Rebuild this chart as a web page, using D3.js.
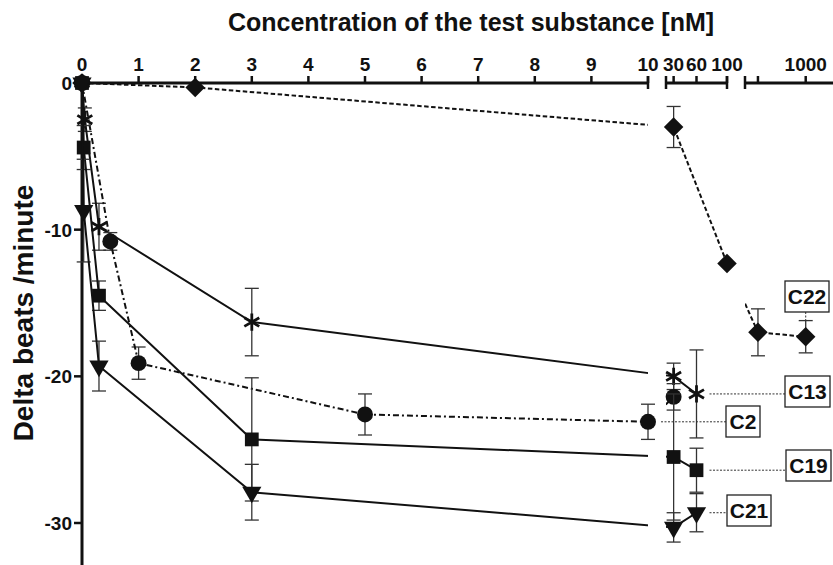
<!DOCTYPE html>
<html>
<head>
<meta charset="utf-8">
<title>Delta beats</title>
<script src="https://cdn.jsdelivr.net/npm/d3@7"></script>
<style>
  body { margin: 0; background: #fff; }
  svg { font-family: "Liberation Sans", Arial, sans-serif; font-weight: bold; }
</style>
</head>
<body>
<svg id="chart" width="833" height="565"></svg>
<script>
// data
const c22X = [0, 2, 30, 100, 300, 1000];
const c22Y = [0, -0.3, -3.0, -12.3, -17.0, -17.3];
const c22E = [0, 0, 1.4, 0, 1.6, 1.1];

const c13X = [0, 0.05, 0.3, 3, 30, 60];
const c13Y = [0, -2.5, -9.8, -16.3, -20.0, -21.2];
const c13E = [0, 0.8, 1.6, 2.3, 0.9, 3.0];

const c2X = [0, 0.5, 1, 5, 10, 30];
const c2Y = [0, -10.8, -19.1, -22.6, -23.1, -21.4];
const c2E = [0, 0.6, 1.1, 1.4, 1.2, 0.9];

const c19X = [0, 0.03, 0.3, 3, 30, 60];
const c19Y = [0, -4.4, -14.5, -24.3, -25.5, -26.4];
const c19E = [0, 1.5, 1.0, 4.2, 4.3, 1.5];

const c21X = [0, 0.03, 0.3, 3, 30, 60];
const c21Y = [0, -8.7, -19.3, -27.9, -30.3, -29.3];
const c21E = [0, 3.5, 1.7, 1.9, 1.0, 1.3];

const seg1Ticks = [0, 1, 2, 3, 4, 5, 6, 7, 8, 9, 10];
const seg2Ticks = [30, 60, 100];
const seg3Ticks = [300, 1000];
const yTicks = [0, -10, -20, -30];

const svg = d3.select("#chart");
const axisY = 83;

// broken x axis: three pieces
const x1 = d3.scaleLinear().domain([0, 10]).range([82, 648]);
const x2 = d3.scaleLinear().domain([20, 100]).range([666, 727]);
const x3 = d3.scaleLinear().domain([110, 1400]).range([745, 833]);
function xPos(v) {
  if (v <= 10) return x1(v);
  if (v <= 100) return x2(v);
  return x3(v);
}
const y = d3.scaleLinear().domain([0, -30]).range([axisY, 523]);

// clip so lines break across the gaps
const clip = svg.append("defs").append("clipPath").attr("id", "segs");
[[0, 648], [666, 727], [745, 833]].forEach(function(r) {
  clip.append("rect").attr("x", r[0]).attr("y", 0).attr("width", r[1] - r[0]).attr("height", 565);
});

// titles
svg.append("text")
  .attr("x", 471).attr("y", 31)
  .attr("text-anchor", "middle")
  .attr("font-size", "25px")
  .attr("fill", "#111")
  .text("Concentration of the test substance [nM]");

svg.append("text")
  .attr("transform", "translate(33,313) rotate(-90)")
  .attr("text-anchor", "middle")
  .attr("font-size", "28px")
  .attr("fill", "#111")
  .text("Delta beats /minute");

// x axis pieces
const axisG = svg.append("g").attr("stroke", "#111").attr("fill", "none");
[[x1, 0, 10], [x2, 20, 100], [x3, 110, 1400]].forEach(function(s, i) {
  const a = s[0](s[1]), b = s[0](s[2]);
  axisG.append("line").attr("x1", a).attr("x2", Math.min(b, 833)).attr("y1", axisY).attr("y2", axisY).attr("stroke-width", 3);
  if (i > 0) axisG.append("line").attr("x1", a).attr("x2", a).attr("y1", axisY - 7).attr("y2", axisY + 6).attr("stroke-width", 2.5);
  if (i < 2) axisG.append("line").attr("x1", b).attr("x2", b).attr("y1", axisY - 7).attr("y2", axisY + 6).attr("stroke-width", 2.5);
});
function topTicks(scale, ticks, labels) {
  ticks.forEach(function(t) {
    const px = scale(t);
    axisG.append("line").attr("x1", px).attr("x2", px).attr("y1", axisY - 7).attr("y2", axisY).attr("stroke-width", 2.5);
    if (labels.indexOf(t) >= 0) {
      svg.append("text").attr("x", px).attr("y", 71).attr("text-anchor", "middle")
        .attr("font-size", "19px").attr("fill", "#111").text(t);
    }
  });
}
topTicks(x1, seg1Ticks, seg1Ticks);
topTicks(x2, seg2Ticks, seg2Ticks);
topTicks(x3, seg3Ticks, [1000]);

// y axis
axisG.append("line").attr("x1", 82).attr("x2", 82).attr("y1", axisY - 1).attr("y2", 565).attr("stroke-width", 3);
yTicks.forEach(function(t) {
  axisG.append("line").attr("x1", 74).attr("x2", 82).attr("y1", y(t)).attr("y2", y(t)).attr("stroke-width", 2.5);
  svg.append("text").attr("x", 72).attr("y", y(t) + 7).attr("text-anchor", "end")
    .attr("font-size", "19px").attr("fill", "#111").text(t);
});

const series = [
  { name: "C22", xs: c22X, ys: c22Y, es: c22E, dash: "4.5,2.5", sym: d3.symbolSquare, size: 190, rot: 45 },
  { name: "C13", xs: c13X, ys: c13Y, es: c13E, dash: null, sym: d3.symbolAsterisk, size: 210, stroke: true },
  { name: "C2", xs: c2X, ys: c2Y, es: c2E, dash: "6,3,2,3", sym: d3.symbolCircle, size: 200 },
  { name: "C19", xs: c19X, ys: c19Y, es: c19E, dash: null, sym: d3.symbolSquare, size: 190 },
  { name: "C21", xs: c21X, ys: c21Y, es: c21E, dash: null, sym: d3.symbolTriangle, size: 160, rot: 180 }
];

const line = d3.line().x(function(d) { return xPos(d[0]); }).y(function(d) { return y(d[1]); });

series.forEach(function(s) {
  const pts = s.xs.map(function(v, i) { return [v, s.ys[i], s.es[i]]; });

  // error bars
  const eg = svg.append("g").attr("stroke", "#333").attr("stroke-width", 1.3);
  pts.filter(function(d) { return d[2] > 0; }).forEach(function(d) {
    const px = xPos(d[0]);
    eg.append("line").attr("x1", px).attr("x2", px).attr("y1", y(d[1] + d[2])).attr("y2", y(d[1] - d[2]));
    [d[1] + d[2], d[1] - d[2]].forEach(function(v) {
      eg.append("line").attr("x1", px - 7).attr("x2", px + 7).attr("y1", y(v)).attr("y2", y(v));
    });
  });

  svg.append("path")
    .attr("d", line(pts))
    .attr("fill", "none")
    .attr("stroke", "#111")
    .attr("stroke-width", 2)
    .attr("stroke-dasharray", s.dash)
    .attr("clip-path", "url(#segs)");

  svg.append("g").selectAll("path")
    .data(pts)
    .enter()
    .append("path")
    .attr("d", d3.symbol().type(s.sym).size(s.size))
    .attr("transform", function(d) {
      return "translate(" + xPos(d[0]) + "," + y(d[1]) + ")" + (s.rot ? " rotate(" + s.rot + ")" : "");
    })
    .attr("fill", s.stroke ? "none" : "#111")
    .attr("stroke", "#111")
    .attr("stroke-width", s.stroke ? 2.8 : 0);
});

// label boxes with dotted leaders (at = which point the leader comes from)
const labels = [
  { name: "C22", at: 5, bx: 785, by: 281, w: 44 },
  { name: "C13", at: 5, bx: 785, by: 376, w: 45 },
  { name: "C2", at: 4, bx: 726, by: 406, w: 34 },
  { name: "C19", at: 5, bx: 786, by: 450, w: 45 },
  { name: "C21", at: 5, bx: 727, by: 495, w: 44 }
];
labels.forEach(function(l) {
  const s = series.find(function(d) { return d.name === l.name; });
  const n = l.at;
  const px = xPos(s.xs[n]), py = y(s.ys[n]);
  const lg = svg.append("g").attr("stroke", "#333").attr("stroke-width", 1).attr("stroke-dasharray", "2,1.5");
  if (l.name === "C22") {
    lg.append("line").attr("x1", px).attr("x2", px).attr("y1", l.by + 31).attr("y2", y(s.ys[n] + s.es[n]));
  } else {
    lg.append("line").attr("x1", px + 13).attr("x2", l.bx).attr("y1", py).attr("y2", py);
  }
  svg.append("rect").attr("x", l.bx).attr("y", l.by).attr("width", l.w).attr("height", 31)
    .attr("fill", "#fff").attr("stroke", "#222").attr("stroke-width", 1.3);
  svg.append("text").attr("x", l.bx + l.w / 2).attr("y", l.by + 23).attr("text-anchor", "middle")
    .attr("font-size", "21px").attr("fill", "#111").text(l.name);
});
</script>
</body>
</html>
